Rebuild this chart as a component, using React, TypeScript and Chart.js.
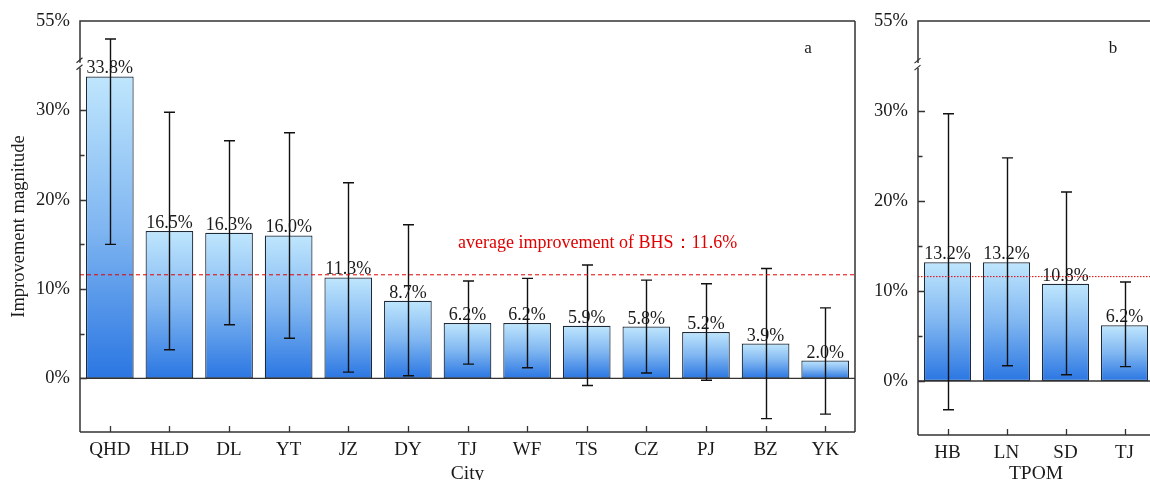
import React, { useEffect, useRef } from 'react';
import { Chart, registerables } from 'chart.js';
Chart.register(...registerables);

// ---------- data ----------
const cityLabels = ['QHD', 'HLD', 'DL', 'YT', 'JZ', 'DY', 'TJ', 'WF', 'TS', 'CZ', 'PJ', 'BZ', 'YK'];
const cityValues = [33.8, 16.5, 16.3, 16.0, 11.3, 8.7, 6.2, 6.2, 5.9, 5.8, 5.2, 3.9, 2.0];
const cityUpper = [47.0, 29.8, 26.6, 27.5, 21.9, 17.2, 10.9, 11.2, 12.7, 11.0, 10.6, 12.3, 7.9];
const cityLower = [15.0, 3.2, 6.0, 4.5, 0.7, 0.3, 1.6, 1.2, -0.8, 0.6, -0.2, -4.5, -4.0];

const tpomLabels = ['HB', 'LN', 'SD', 'TJ'];
const tpomValues = [13.2, 13.2, 10.8, 6.2];
const tpomUpper = [29.7, 24.8, 21.0, 11.0];
const tpomLower = [-3.2, 1.7, 0.7, 1.6];

const yTickValues = [0, 10, 20, 30, 55];
const yMinorTickValues = [5, 15, 25];
const averageImprovement = 11.6;
const averageText = 'average improvement of BHS：11.6%';

const AXIS_MIN = -6;
const AXIS_MAX = 55;
const BREAK_AT = 35;
const COMPRESS = 0.25;

// broken-axis transform
const tf = (v: number) => (v <= BREAK_AT ? v : BREAK_AT + (v - BREAK_AT) * COMPRESS);

const SERIF = '"Times New Roman", "Liberation Serif", "DejaVu Serif", serif';
const AXIS_COLOR = '#333';
const TEXT_COLOR = '#1a1a1a';

type PanelCfg = {
  labels: string[];
  values: number[];
  upper: number[];
  lower: number[];
  letter: string;
  xTitle: string;
  yTitle?: string;
  avgDash: number[];
  avgText?: string;
  drawRight: boolean;
  padTop: number;
  padRight: number;
  yWidth: number;
  xHeight: number;
};

function makeChart(canvas: HTMLCanvasElement, cfg: PanelCfg) {
  const decorations = {
    id: 'decor',
    afterDatasetsDraw(chart: any) {
      const ctx = chart.ctx as CanvasRenderingContext2D;
      const { left, right, top, bottom } = chart.chartArea;
      const y = chart.scales.y;
      const x = chart.scales.x;
      const meta = chart.getDatasetMeta(0);
      ctx.save();
      // zero line
      const y0 = y.getPixelForValue(0);
      ctx.strokeStyle = AXIS_COLOR;
      ctx.lineWidth = 1.3;
      ctx.beginPath();
      ctx.moveTo(left, y0);
      ctx.lineTo(right, y0);
      ctx.stroke();

      // data labels
      ctx.fillStyle = TEXT_COLOR;
      ctx.font = `18px ${SERIF}`;
      ctx.textAlign = 'center';
      ctx.textBaseline = 'alphabetic';
      meta.data.forEach((bar: any, i: number) => {
        ctx.fillText(cfg.values[i].toFixed(1) + '%', bar.x, bar.y - 3);
      });

      // error bars
      ctx.strokeStyle = '#111';
      ctx.lineWidth = 1.4;
      meta.data.forEach((bar: any, i: number) => {
        const yu = y.getPixelForValue(tf(cfg.upper[i]));
        const yl = y.getPixelForValue(tf(cfg.lower[i]));
        const cx = Math.round(bar.x) + 0.5;
        ctx.beginPath();
        ctx.moveTo(cx, yu);
        ctx.lineTo(cx, yl);
        ctx.moveTo(cx - 5.5, yu);
        ctx.lineTo(cx + 5.5, yu);
        ctx.moveTo(cx - 5.5, yl);
        ctx.lineTo(cx + 5.5, yl);
        ctx.stroke();
      });

      // average line
      const ya = y.getPixelForValue(averageImprovement);
      ctx.strokeStyle = '#e00000';
      ctx.lineWidth = 1;
      ctx.setLineDash(cfg.avgDash);
      ctx.beginPath();
      ctx.moveTo(left, ya);
      ctx.lineTo(right, ya);
      ctx.stroke();
      ctx.setLineDash([]);
      if (cfg.avgText) {
        ctx.fillStyle = '#e00000';
        ctx.font = `18px ${SERIF}`;
        ctx.textAlign = 'center';
        ctx.fillText(cfg.avgText, left + (right - left) * 0.668, ya - 27);
      }

      // frame
      ctx.strokeStyle = AXIS_COLOR;
      ctx.lineWidth = 1.5;
      const yBreak = y.getPixelForValue(BREAK_AT);
      ctx.beginPath();
      ctx.moveTo(left, bottom);
      ctx.lineTo(right + (cfg.drawRight ? 0 : 20), bottom);
      if (cfg.drawRight) {
        ctx.moveTo(right, bottom);
        ctx.lineTo(right, top);
      }
      ctx.moveTo(right + (cfg.drawRight ? 0 : 20), top);
      ctx.lineTo(left, top);
      ctx.lineTo(left, yBreak - 3);
      ctx.moveTo(left, yBreak + 2);
      ctx.lineTo(left, bottom);
      ctx.stroke();
      // break marks
      ctx.lineWidth = 1.2;
      ctx.beginPath();
      ctx.moveTo(left - 3.5, yBreak - 3);
      ctx.lineTo(left + 2.5, yBreak - 8);
      ctx.moveTo(left - 3.5, yBreak + 4);
      ctx.lineTo(left + 2.5, yBreak - 1);
      ctx.stroke();

      // y ticks (inward)
      ctx.lineWidth = 1.3;
      ctx.beginPath();
      yTickValues.forEach((v) => {
        if (v > BREAK_AT) return;
        const py = Math.round(y.getPixelForValue(tf(v))) + 0.5;
        ctx.moveTo(left, py);
        ctx.lineTo(left + 7, py);
      });
      yMinorTickValues.forEach((v) => {
        const py = Math.round(y.getPixelForValue(tf(v))) + 0.5;
        ctx.moveTo(left, py);
        ctx.lineTo(left + 4.5, py);
      });
      // x ticks (inward)
      cfg.labels.forEach((_, i) => {
        const px = Math.round(x.getPixelForValue(i)) + 0.5;
        ctx.moveTo(px, bottom);
        ctx.lineTo(px, bottom - 6);
      });
      ctx.stroke();

      // panel letter
      ctx.fillStyle = TEXT_COLOR;
      ctx.font = `17px ${SERIF}`;
      ctx.textAlign = 'center';
      ctx.textBaseline = 'middle';
      ctx.fillText(cfg.letter, cfg.drawRight ? right - 47 : right - 41, top + 27);

      // axis titles
      ctx.font = `19.5px ${SERIF}`;
      ctx.textBaseline = 'alphabetic';
      ctx.fillText(cfg.xTitle, (left + right) / 2, 479);
      if (cfg.yTitle) {
        ctx.save();
        ctx.font = `18.5px ${SERIF}`;
        ctx.translate(24, (top + bottom) / 2);
        ctx.rotate(-Math.PI / 2);
        ctx.textBaseline = 'alphabetic';
        ctx.fillText(cfg.yTitle, 0, 0);
        ctx.restore();
      }
      ctx.restore();
    },
  };

  return new Chart(canvas, {
    type: 'bar',
    data: {
      labels: cfg.labels,
      datasets: [
        {
          data: cfg.values.map(tf),
          backgroundColor: (c: any) => {
            const chart = c.chart;
            const ys = chart.scales?.y;
            if (!chart.chartArea || !ys || c.type !== 'data') return '#8fc0f3';
            const t = ys.getPixelForValue(c.raw);
            const b = ys.getPixelForValue(0);
            if (!isFinite(t) || !isFinite(b) || Math.abs(b - t) < 1) return '#8fc0f3';
            const g = chart.ctx.createLinearGradient(0, t, 0, b);
            g.addColorStop(0, '#bfe6fd');
            g.addColorStop(0.5, '#80b6f1');
            g.addColorStop(1, '#2a76e2');
            return g;
          },
          borderColor: '#1e2a38',
          borderWidth: 1.2,
          borderSkipped: false,
          barPercentage: 0.8,
          categoryPercentage: 1,
        },
      ],
    },
    options: {
      animation: false,
      responsive: false,
      devicePixelRatio: 1,
      layout: { padding: { top: cfg.padTop, right: cfg.padRight, left: 0, bottom: 0 } },
      plugins: { legend: { display: false }, tooltip: { enabled: false } },
      scales: {
        x: {
          type: 'category',
          offset: true,
          grid: { display: false, drawTicks: false },
          border: { display: false },
          ticks: { color: TEXT_COLOR, font: { family: SERIF, size: 19 }, padding: 7, maxRotation: 0 },
          afterFit: (s: any) => {
            s.height = cfg.xHeight;
          },
        },
        y: {
          type: 'linear',
          min: AXIS_MIN,
          max: tf(AXIS_MAX),
          grid: { display: false, drawTicks: false },
          border: { display: false },
          afterBuildTicks: (s: any) => {
            s.ticks = yTickValues.map((v) => ({ value: tf(v), label: v + '%' }));
          },
          ticks: {
            color: TEXT_COLOR,
            font: { family: SERIF, size: 18.5 },
            padding: 10,
            callback: (val: any) => {
              const idx = yTickValues.findIndex((v) => Math.abs(tf(v) - val) < 1e-6);
              return idx >= 0 ? yTickValues[idx] + '%' : '';
            },
          },
          afterFit: (s: any) => {
            s.width = cfg.yWidth;
          },
        },
      },
    },
    plugins: [decorations],
  } as any);
}

function Panel({ cfg, width, left }: { cfg: PanelCfg; width: number; left: number }) {
  const ref = useRef<HTMLCanvasElement | null>(null);
  useEffect(() => {
    if (!ref.current) return;
    const chart = makeChart(ref.current, cfg);
    return () => chart.destroy();
  }, []);
  return (
    <div style={{ position: 'absolute', left, top: 0, width, height: 480 }}>
      <canvas ref={ref} width={width} height={480} style={{ width, height: 480, display: 'block' }} />
    </div>
  );
}

const cityCfg: PanelCfg = {
  labels: cityLabels,
  values: cityValues,
  upper: cityUpper,
  lower: cityLower,
  letter: 'a',
  xTitle: 'City',
  yTitle: 'Improvement magnitude',
  avgDash: [4, 3],
  avgText: averageText,
  drawRight: true,
  padTop: 17,
  padRight: 5,
  yWidth: 80,
  xHeight: 48,
};

const tpomCfg: PanelCfg = {
  labels: tpomLabels,
  values: tpomValues,
  upper: tpomUpper,
  lower: tpomLower,
  letter: 'b',
  xTitle: 'TPOM',
  avgDash: [1.5, 1.5],
  drawRight: false,
  padTop: 19,
  padRight: 6,
  yWidth: 58,
  xHeight: 45,
};

export default function App() {
  return (
    <div
      style={{
        position: 'fixed',
        left: 0,
        top: 0,
        width: 1150,
        height: 480,
        overflow: 'hidden',
        background: '#fff',
      }}
    >
      <Panel cfg={cityCfg} width={860} left={0} />
      <Panel cfg={tpomCfg} width={300} left={860} />
    </div>
  );
}
